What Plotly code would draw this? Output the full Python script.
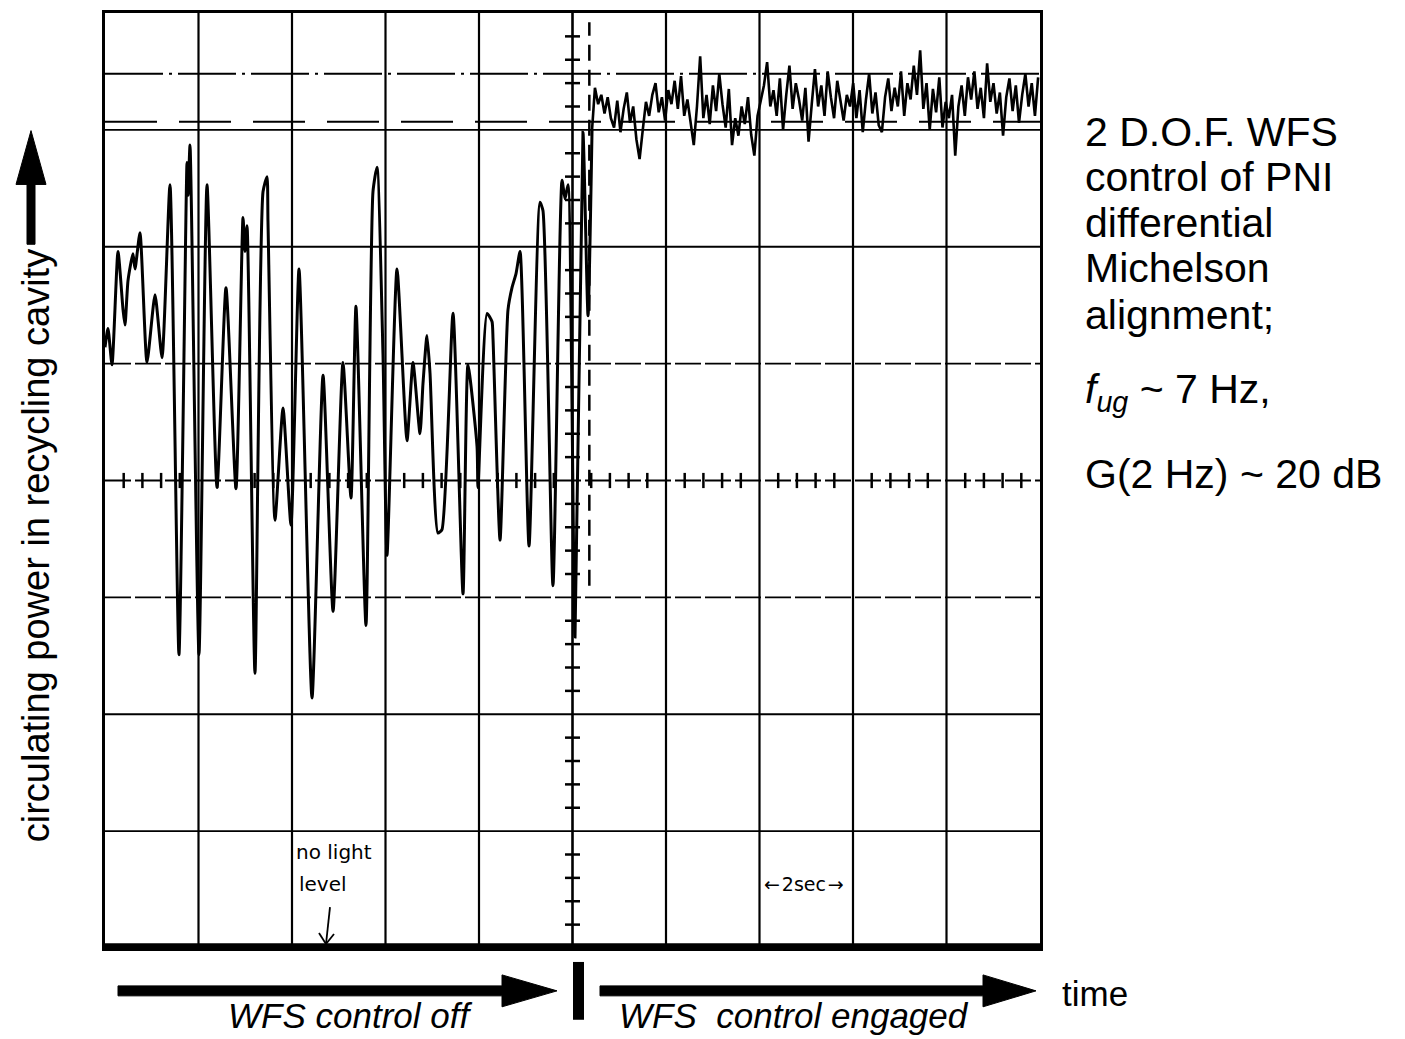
import plotly.graph_objects as go
import numpy as np

# ---------------- data (screen divisions: x 0..10, y 0..8) ----------------
# WFS control off: irregular fringe-like fluctuation
t_off = [0.000, 0.032, 0.075, 0.139, 0.193, 0.214, 0.246, 0.299, 0.321, 0.374,
         0.449, 0.535, 0.610, 0.695, 0.791, 0.877, 0.888, 0.909, 1.005, 1.091,
         1.198, 1.294, 1.401, 1.476, 1.497, 1.519, 1.604, 1.690, 1.733, 1.743,
         1.818, 1.904, 1.989, 2.075, 2.214, 2.332, 2.439, 2.545, 2.631, 2.684,
         2.791, 2.866, 2.909, 2.973, 3.016, 3.123, 3.230, 3.294, 3.369, 3.401,
         3.444, 3.476, 3.561, 3.604, 3.722, 3.829, 3.882, 3.979, 3.989, 4.086,
         4.139, 4.150, 4.225, 4.310, 4.353, 4.396, 4.439, 4.535, 4.652, 4.684,
         4.791, 4.888, 4.920, 4.952, 5.027, 5.112, 5.166, 5.209]
p_off = [5.14, 5.30, 4.99, 5.96, 5.46, 5.33, 5.71, 5.94, 5.81, 6.12,
         5.01, 5.59, 5.05, 6.53, 2.51, 6.72, 6.44, 6.87, 2.51, 6.53,
         3.94, 5.65, 3.93, 6.25, 5.96, 6.18, 2.35, 6.47, 6.60, 6.22,
         3.66, 4.62, 3.62, 5.81, 2.14, 4.90, 2.88, 5.01, 3.85, 5.49,
         2.76, 6.47, 6.68, 5.08, 3.36, 5.81, 4.34, 5.01, 4.40, 4.83,
         5.24, 4.92, 3.55, 3.58, 5.43, 3.03, 4.99, 4.29, 3.94, 5.43,
         5.36, 5.21, 3.49, 5.46, 5.65, 5.77, 5.96, 3.44, 6.38, 6.31,
         3.10, 6.57, 6.41, 6.53, 2.66, 6.98, 5.41, 7.00]

# WFS control engaged: locked near maximum with small noise
p_on = [7.36, 7.22, 7.30, 7.14, 7.28, 7.10, 7.02, 7.25, 6.98, 7.18,
        7.32, 7.06, 7.20, 6.92, 6.75, 7.00, 7.24, 7.12, 7.30, 7.40,
        7.15, 7.28, 7.08, 7.34, 7.22, 7.42, 7.18, 7.46, 7.12, 7.26,
        7.04, 6.87, 7.20, 7.63, 7.10, 7.30, 7.05, 7.38, 7.16, 7.48,
        7.22, 7.02, 7.35, 6.87, 7.10, 6.95, 7.20, 7.05, 7.28, 6.96,
        6.78, 7.12, 7.25, 7.38, 7.58, 7.20, 7.34, 7.12, 7.44, 7.00,
        7.30, 7.55, 7.18, 7.40, 7.26, 7.08, 7.36, 6.90, 7.22, 7.52,
        7.20, 7.38, 7.12, 7.50, 7.28, 7.10, 7.42, 7.24, 7.08, 7.30,
        7.20, 7.40, 7.10, 7.34, 6.98, 7.26, 7.48, 7.14, 7.32, 7.04,
        6.98, 7.28, 7.44, 7.16, 7.36, 7.20, 7.50, 7.12, 7.40, 7.26,
        7.55, 7.30, 7.68, 7.18, 7.40, 7.00, 7.35, 7.15, 7.45, 7.02,
        7.24, 7.10, 7.30, 6.78, 7.20, 7.38, 7.12, 7.45, 7.26, 7.50,
        7.18, 7.36, 7.10, 7.57, 7.24, 7.40, 7.14, 7.32, 6.95, 7.28,
        7.44, 7.16, 7.38, 7.06, 7.30, 7.48, 7.20, 7.40, 7.12, 7.45]
t_on_start, t_on_end = 5.24, 9.98
t_on = list(np.linspace(t_on_start, t_on_end, len(p_on)))

# no-light level trace
dark_t = [0.0, 10.0]
dark_p = [0.02, 0.02]

# reference levels
level_dashdot = 7.48
level_dashed = 7.07
trigger_t = 5.18
trigger_span = [3.1, 7.92]

FONT = "Liberation Sans"
HAND = "DejaVu Sans"

# ---------------- geometry ----------------
BODY = 8                       # default page margin of the html body
W, H = 1405 - BODY, 1039 - BODY
L, R, T, B = 105, 1040, 10, 948   # plot area, in window pixels


def X(px):
    return (px - L) / (R - L)


def Y(py):
    return (B - py) / (B - T)


fig = go.Figure()

fig.add_trace(go.Scatter(x=dark_t, y=dark_p, mode="lines",
                         line=dict(color="black", width=5), hoverinfo="skip"))

# center-axis minor ticks (every 0.2 division)
tx, ty = [], []
for i in range(1, 40):
    if i % 5:
        v = i * 0.2
        tx += [5 - 0.08, 5 + 0.08, None]
        ty += [v, v, None]
for i in range(1, 50):
    if i % 5:
        v = i * 0.2
        tx += [v, v, None]
        ty += [4 - 0.065, 4 + 0.065, None]
fig.add_trace(go.Scatter(x=tx, y=ty, mode="lines",
                         line=dict(color="black", width=2.5), hoverinfo="skip"))

fig.add_trace(go.Scatter(x=t_off, y=p_off, mode="lines",
                         line=dict(color="black", width=3, shape="spline", smoothing=0.55),
                         hoverinfo="skip"))
fig.add_trace(go.Scatter(x=[t_off[-1]] + t_on, y=[p_off[-1]] + p_on, mode="lines",
                         line=dict(color="black", width=2.6), hoverinfo="skip"))

shapes = []
for gx in range(1, 10):
    shapes.append(dict(type="line", xref="x", yref="y", x0=gx, x1=gx, y0=0, y1=8,
                       line=dict(color="black", width=2.6 if gx == 5 else 2.2),
                       layer="below"))
for gy in range(1, 8):
    dash = "26px,4px" if gy in (3, 4, 5) else "solid"
    shapes.append(dict(type="line", xref="x", yref="y", x0=0, x1=10, y0=gy, y1=gy,
                       line=dict(color="black", width=2 if gy == 4 else 1.8, dash=dash),
                       layer="below"))
shapes.append(dict(type="line", xref="x", yref="y", x0=0, x1=10,
                   y0=level_dashdot, y1=level_dashdot,
                   line=dict(color="black", width=2, dash="58px,6px,3px,6px"), layer="below"))
shapes.append(dict(type="line", xref="x", yref="y", x0=0, x1=10,
                   y0=level_dashed, y1=level_dashed,
                   line=dict(color="black", width=2, dash="52px,22px"), layer="below"))
shapes.append(dict(type="line", xref="x", yref="y", x0=trigger_t, x1=trigger_t,
                   y0=trigger_span[0], y1=trigger_span[1],
                   line=dict(color="black", width=2.5, dash="16px,9px"), layer="below"))


# bottom arrows and separator bar (paper coords)
def arrow_path(x0, x1, xh, yc, half_shaft, half_head):
    return (f"M {X(x0)},{Y(yc - half_shaft)} L {X(xh)},{Y(yc - half_shaft)} "
            f"L {X(xh)},{Y(yc - half_head)} L {X(x1)},{Y(yc)} "
            f"L {X(xh)},{Y(yc + half_head)} L {X(xh)},{Y(yc + half_shaft)} "
            f"L {X(x0)},{Y(yc + half_shaft)} Z")


shapes.append(dict(type="path", xref="paper", yref="paper",
                   path=arrow_path(118, 557, 502, 991, 5, 16),
                   fillcolor="black", line=dict(color="black", width=1)))
shapes.append(dict(type="path", xref="paper", yref="paper",
                   path=arrow_path(600, 1036, 983, 991, 5, 16),
                   fillcolor="black", line=dict(color="black", width=1)))
shapes.append(dict(type="rect", xref="paper", yref="paper",
                   x0=X(573), x1=X(584), y0=Y(1020), y1=Y(962),
                   fillcolor="black", line=dict(color="black", width=0)))
# vertical arrow beside the y label
ax_c = 31
shapes.append(dict(type="path", xref="paper", yref="paper",
                   path=(f"M {X(ax_c-4)},{Y(242)} L {X(ax_c-4)},{Y(182)} L {X(ax_c-15)},{Y(182)} "
                         f"L {X(ax_c)},{Y(128)} L {X(ax_c+15)},{Y(182)} L {X(ax_c+4)},{Y(182)} "
                         f"L {X(ax_c+4)},{Y(242)} Z"),
                   fillcolor="black", line=dict(color="black", width=1)))
# hand-drawn arrow to the no-light level
for (xa, ya, xb, yb) in [(330, 907, 326, 944), (319, 933, 326, 944), (334, 934, 326, 944)]:
    shapes.append(dict(type="line", xref="paper", yref="paper",
                       x0=X(xa), y0=Y(ya), x1=X(xb), y1=Y(yb),
                       line=dict(color="black", width=1.8)))

ann = []
right_lines = [("2 D.O.F. WFS", 129), ("control of PNI", 175), ("differential", 221),
               ("Michelson", 266), ("alignment;", 313),
               ("<i>f</i><sub><i>ug</i></sub> ~ 7 Hz,", 390),
               ("G(2 Hz) ~ 20 dB", 472)]
for txt, py in right_lines:
    ann.append(dict(text=txt, xref="paper", yref="paper", x=X(1083), y=Y(py),
                    xanchor="left", yanchor="middle", showarrow=False,
                    font=dict(family=FONT, size=41, color="black")))

ann.append(dict(text="circulating power in recycling cavity", xref="paper", yref="paper",
                x=X(36), y=Y(545), textangle=-90, xanchor="center", yanchor="middle",
                showarrow=False, font=dict(family=FONT, size=38, color="black")))

ann.append(dict(text="WFS control off", xref="paper", yref="paper", x=X(350), y=Y(1016),
                xanchor="center", yanchor="middle", showarrow=False,
                font=dict(family=FONT, size=35, color="black", style="italic")))
ann.append(dict(text="WFS  control engaged", xref="paper", yref="paper", x=X(794), y=Y(1016),
                xanchor="center", yanchor="middle", showarrow=False,
                font=dict(family=FONT, size=35, color="black", style="italic")))
ann.append(dict(text="time", xref="paper", yref="paper", x=X(1060), y=Y(994),
                xanchor="left", yanchor="middle", showarrow=False,
                font=dict(family=FONT, size=35, color="black")))

ann.append(dict(text="no light", xref="paper", yref="paper", x=X(294), y=Y(852),
                xanchor="left", yanchor="middle", showarrow=False,
                font=dict(family=HAND, size=20, color="black")))
ann.append(dict(text="level", xref="paper", yref="paper", x=X(297), y=Y(884),
                xanchor="left", yanchor="middle", showarrow=False,
                font=dict(family=HAND, size=20, color="black")))
ann.append(dict(text="\u2190\u200a2sec\u200a\u2192", xref="paper", yref="paper", x=X(804), y=Y(884),
                xanchor="center", yanchor="middle", showarrow=False,
                font=dict(family=HAND, size=19, color="black")))

fig.update_layout(
    width=W, height=H,
    margin=dict(l=L - BODY, r=W - (R - BODY), t=T - BODY, b=H - (B - BODY)),
    paper_bgcolor="white", plot_bgcolor="white",
    showlegend=False,
    shapes=shapes, annotations=ann,
    xaxis=dict(range=[0, 10], showgrid=False, zeroline=False, showticklabels=False,
               ticks="", showline=True, mirror=True, linecolor="black", linewidth=2.5,
               fixedrange=True),
    yaxis=dict(range=[0, 8], showgrid=False, zeroline=False, showticklabels=False,
               ticks="", showline=True, mirror=True, linecolor="black", linewidth=2.5,
               fixedrange=True),
)

fig.write_html("out.html")
